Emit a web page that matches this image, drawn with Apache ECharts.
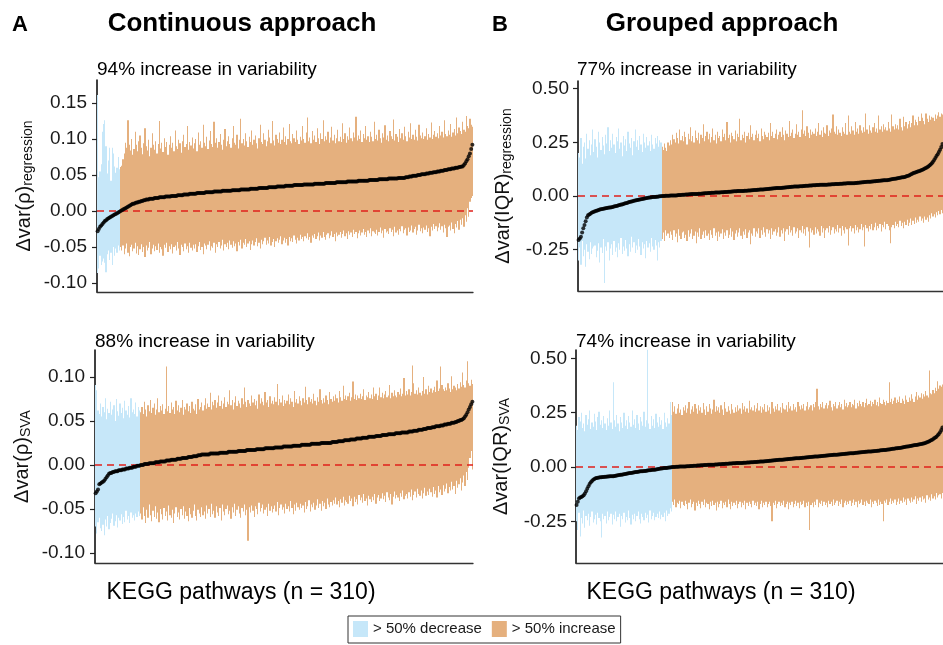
<!DOCTYPE html>
<html lang="en">
<head>
<meta charset="UTF-8">
<title>Variability per KEGG pathway</title>
<script src="https://cdn.jsdelivr.net/npm/echarts@6.0.0/dist/echarts.min.js"></script>
<style>
  body { margin: 0; padding: 0; background: #fff; }
  #chart { width: 943px; height: 645px; }
</style>
</head>
<body>
<div id="chart"></div>
<script>
// all values in thousandths; pathways are sorted by the point estimate
// A, top: continuous approach, regression
const tlDecrease = 19;
const tlPoint = [-28,-25,-22,-20,-18,-16,-14,-13,-11,-10,-9,-8,-7,-6,-5,-4,-3,-2,-1,0,
  1,2,3,4,5,6,7,8,9,10,10,11,12,12,13,13,14,14,15,15,
  16,16,16,17,17,17,17,18,18,18,18,19,19,19,19,19,20,20,20,20,20,21,21,21,21,21,22,22,22,22,22,23,23,23,23,23,24,24,24,24,24,24,25,25,25,
  25,25,25,25,26,26,26,26,26,26,26,27,27,27,27,27,27,27,28,28,28,28,28,28,28,28,29,29,29,29,29,29,29,30,30,30,30,30,30,30,30,31,31,31,31,31,31,31,32,32,32,32,32,32,32,32,33,33,33,33,33,33,33,34,34,34,34,34,34,34,35,35,35,35,35,35,35,36,36,36,36,36,
  36,36,36,37,37,37,37,37,37,37,37,37,38,38,38,38,38,38,38,38,38,39,39,39,39,39,39,39,39,39,40,40,40,40,40,40,40,40,40,41,41,41,41,41,41,41,41,41,42,42,42,42,42,42,42,42,42,43,43,43,43,43,43,43,43,44,44,44,44,44,44,44,44,45,45,45,45,45,45,45,45,46,46,46,46,46,46,
  47,47,47,48,48,48,49,49,49,49,50,50,50,51,51,51,51,52,52,52,53,53,53,
  54,54,54,55,55,55,56,56,56,57,57,57,58,58,58,59,59,59,60,60,60,61,61,62,62,
  64,66,69,72,76,80,86,92];
const tlHigh = [161,47,55,65,110,121,126,90,52,70,88,42,88,80,62,53,60,75,58,
  61,63,72,80,95,88,126,92,84,100,78,
  86,110,92,83,97,105,88,79,94,115, 90,84,99,76,88,108,92,85,97,80,
  93,125,87,95,82,101,89,96,78,92, 104,88,95,83,112,90,86,99,94,81,
  97,106,89,93,118,85,96,91,102,87, 94,100,83,109,92,97,88,120,95,90,
  103,86,98,111,93,89,124,95,101,88, 96,107,92,85,99,114,90,97,104,93,
  88,101,118,95,92,106,87,99,128,94, 100,91,108,97,89,103,96,112,92,99,
  105,94,87,101,120,96,93,108,99,90, 97,113,102,94,125,98,91,106,100,95,
  109,93,99,116,96,104,92,100,121,97, 94,107,101,96,112,99,93,103,98,118,
  100,95,109,130,97,102,94,111,99,105, 96,115,101,93,108,100,126,97,104,99,
  110,95,102,117,98,106,94,101,113,97, 103,96,122,100,108,95,104,99,116,101,
  97,109,102,131,98,105,100,112,96,107, 101,118,99,104,96,110,103,97,124,100,
  106,98,113,101,95,108,102,119,99,105, 97,111,104,100,127,98,107,103,96,114,
  101,108,99,117,104,97,110,102,122,100, 106,99,113,103,98,120,105,101,109,100,
  104,115,99,107,102,123,100,106,111,103, 108,101,118,105,110,102,126,107,104,112,
  106,121,103,109,114,105,130,108,116,111, 107,124,113,110,132,118,115,128,120,117];
const tlLow = [-86,-80,-62,-75,-70,-66,-72,-85,-60,-55,-68,-58,-75,-50,-62,-52,-58,-48,-55,
  -50,-55,-48,-60,-52,-45,-58,-63,-50,-47,-56,
  -52,-44,-59,-49,-61,-53,-46,-57,-50,-64, -48,-55,-51,-43,-60,-52,-47,-56,-49,-54,
  -45,-58,-50,-53,-62,-47,-51,-44,-57,-49, -53,-46,-59,-50,-48,-55,-43,-52,-61,-47,
  -50,-56,-45,-53,-49,-58,-44,-51,-55,-47, -52,-46,-57,-49,-43,-54,-50,-60,-45,-48,
  -53,-47,-42,-55,-49,-51,-44,-58,-46,-50, -43,-52,-48,-40,-55,-46,-50,-44,-53,-41,
  -47,-51,-42,-49,-45,-56,-43,-48,-40,-52, -44,-47,-39,-50,-45,-42,-54,-46,-41,-48,
  -43,-38,-49,-44,-52,-40,-46,-42,-37,-47, -41,-45,-36,-48,-43,-39,-50,-42,-38,-44,
  -40,-35,-46,-41,-37,-44,-39,-48,-36,-42, -38,-43,-34,-40,-45,-37,-41,-33,-39,-36,
  -42,-35,-38,-31,-40,-36,-44,-34,-37,-32, -39,-35,-30,-41,-34,-37,-29,-36,-40,-33,
  -31,-38,-34,-28,-36,-32,-42,-30,-35,-33, -29,-37,-32,-27,-35,-31,-39,-28,-33,-30,
  -36,-26,-32,-29,-38,-31,-27,-34,-30,-25, -33,-29,-36,-27,-31,-24,-35,-28,-30,-32,
  -26,-34,-29,-23,-31,-27,-37,-25,-30,-28, -32,-24,-29,-26,-35,-22,-30,-27,-33,-25,
  -28,-21,-31,-26,-24,-34,-23,-29,-27,-20, -30,-25,-22,-33,-27,-19,-28,-24,-31,-23,
  -26,-20,-29,-24,-35,-22,-27,-18,-25,-21, -28,-23,-17,-26,-21,-30,-19,-24,-36,-22,
  -20,-27,-16,-25,-31,-18,-23,-14,-26,-12, -19,-10,-22,-6,-15,4,-8,13,18,21];

// A, bottom: continuous approach, SVA
const blDecrease = 37;
const blPoint = [-32,-30,-28,-22,-21,-20,-19,-18,-16,-14,-12,-10,-9,-9,-8,-8,-7,-7,-7,-6,
  -6,-6,-5,-5,-5,-4,-4,-4,-3,-3,-3,-2,-2,-2,-1,-1,-1,
  0,0,0,1,1,1,1,2,2,2,2,2,3,3,3,3,4,4,4,4,4,5,5,5,5,6,6,6,6,6,7,7,7,7,8,8,8,8,8,9,9,9,9,10,10,10,10,11,11,11,
  12,12,12,12,12,12,12,13,13,13,13,13,13,13,13,14,14,14,14,14,14,14,15,15,15,15,15,15,15,15,
  16,16,16,16,16,16,16,17,17,17,17,17,17,17,17,18,18,18,18,18,18,18,19,19,19,19,19,19,19,19,
  20,20,20,20,20,20,20,21,21,21,21,21,21,21,21,22,22,22,22,22,22,22,23,23,23,23,23,23,23,23,
  24,24,24,24,24,24,24,24,25,25,25,25,25,25,25,25,25,
  26,26,26,26,26,27,27,27,27,27,28,28,28,28,28,29,29,29,29,29,30,30,30,30,30,31,31,31,31,31,
  32,32,32,32,32,32,33,33,33,33,33,34,34,34,34,34,35,35,35,35,35,35,36,36,36,36,36,37,37,37,37,37,37,
  38,38,38,38,39,39,39,39,40,40,40,40,41,41,41,42,42,42,42,43,43,43,44,44,44,44,45,45,45,46,46,46,47,47,47,48,48,
  48,49,49,50,50,51,51,52,53,55,57,60,63,66,69,72];
const blHigh = [91,85,62,58,70,55,66,60,76,52,64,59,72,57,63,68,50,75,61,56,
  70,59,65,53,73,62,57,67,54,76,60,63,58,71,55,66,62,
  60,66,58,72,63,55,68,61,74,59, 65,70,57,63,76,60,67,62,69,58,
  64,112,61,67,59,71,63,66,58,73, 62,68,60,65,74,57,66,63,70,61,
  67,59,72,64,62,69,58,75,63,66, 71,62,68,76,64,70,66,82,63,72,
  68,74,65,71,79,67,73,64,70,77, 66,72,69,85,68,74,63,71,78,67,
  73,70,65,76,69,88,72,66,74,70, 67,79,71,75,68,73,64,80,70,76,
  72,68,83,71,74,66,78,70,73,69, 77,72,92,68,75,71,79,67,74,70,
  73,80,69,76,72,66,84,71,75,70, 78,73,68,76,71,89,74,69,77,72,
  75,70,81,73,68,77,72,86,74,70, 76,71,79,74,69,83,75,72,78,73,
  80,76,71,84,77,73,90,75,79,74, 78,82,73,77,95,75,80,74,79,76,
  81,75,78,86,74,79,77,83,76,80, 75,88,78,81,74,79,88,77,82,76,
  80,84,77,79,91,76,82,78,85,79, 77,83,80,87,78,81,99,79,84,80,
  86,79,83,113,93,81,85,80,88,82, 79,84,100,81,86,80,90,83,87,82,
  85,89,83,96,84,87,112,91,86,84, 88,85,93,87,83,101,86,90,88,85,
  92,87,94,89,105,91,88,96,118,93, 90,97,92];
const blLow = [-70,-78,-65,-60,-72,-75,-68,-80,-62,-70,-58,-73,-66,-61,-55,-69,-64,-57,-71,-60,
  -63,-56,-67,-59,-65,-52,-62,-58,-66,-54,-60,-57,-63,-55,-59,-53,-58,
  -55,-62,-48,-58,-66,-51,-60,-45,-57,-64, -52,-59,-47,-61,-54,-65,-50,-56,-62,-49,
  -58,-53,-63,-46,-57,-60,-51,-66,-55,-48, -59,-54,-62,-50,-57,-47,-61,-53,-58,-64,
  -49,-56,-60,-52,-45,-58,-63,-51,-55,-59, -48,-57,-53,-61,-46,-55,-50,-59,-44,-56,
  -52,-60,-47,-54,-58,-49,-63,-45,-53,-57, -50,-46,-56,-52,-61,-48,-54,-44,-58,-51,
  -47,-55,-60,-49,-53,-45,-57,-51,-86,-48, -54,-46,-52,-59,-47,-50,-56,-43,-53,-49,
  -45,-55,-51,-48,-58,-44,-52,-47,-54,-50, -46,-53,-42,-57,-49,-45,-51,-48,-55,-44,
  -50,-47,-53,-41,-49,-56,-45,-52,-43,-48, -51,-44,-49,-46,-54,-42,-50,-47,-40,-53,
  -45,-48,-43,-51,-46,-39,-49,-44,-52,-41, -47,-43,-50,-38,-45,-48,-42,-46,-40,-44,
  -37,-45,-41,-48,-39,-43,-36,-46,-40,-42, -44,-35,-41,-38,-47,-36,-42,-39,-45,-34,
  -40,-37,-43,-33,-41,-38,-46,-35,-39,-42, -36,-40,-33,-44,-37,-34,-41,-38,-32,-39,
  -35,-42,-31,-37,-40,-33,-45,-36,-30,-38, -34,-37,-41,-32,-36,-29,-39,-35,-33,-38,
  -31,-36,-28,-40,-34,-30,-37,-27,-33,-35, -29,-38,-32,-26,-35,-30,-34,-27,-31,-36,
  -25,-33,-29,-37,-24,-31,-28,-34,-23,-30, -27,-21,-32,-25,-29,-19,-28,-24,-33,-18,
  -26,-22,-15,-29,-20,-12,-24,-8,-17,-3, 8,16,-5];

// B, top: grouped approach, regression
const trDecrease = 71;
const trPoint = [-205,-198,-190,-170,-150,-135,-118,-100,-90,-86,-82,-78,-75,-73,-71,-69,-67,-65,-63,-62,
  -60,-59,-58,-57,-56,-55,-54,-53,-52,-51,-49,-48,-46,-45,-43,-42,-40,-39,-37,-35,
  -34,-32,-30,-28,-27,-25,-24,-22,-21,-20,-19,-17,-16,-15,-14,-13,-12,-10,-9,-8,
  -7,-7,-6,-5,-5,-4,-3,-3,-2,-1,-1,
  0,0,0,1,1,1,1,2,2,2,3,3,3,4,
  5,5,5,6,6,6,7,7,7,8,8,9,9,9,10,10,10,11,11,11,12,12,13,13,13,14,14,14,15,15,15,16,16,17,17,17,18,18,18,19,19,19,20,20,20,21,21,22,22,22,23,23,23,24,24,24,25,25,25,26,26,26,27,27,28,28,28,
  29,29,30,30,31,31,32,32,33,33,34,34,35,35,36,36,37,37,37,38,38,39,39,40,40,41,41,42,42,43,43,44,44,44,45,45,46,46,46,47,47,
  48,48,48,49,49,49,50,50,50,51,51,51,52,52,52,52,53,53,53,54,54,54,55,55,55,56,56,56,56,57,57,57,58,58,58,59,59,59,59,60,60,60,
  61,61,62,62,63,63,64,64,65,65,66,66,67,67,68,68,69,69,70,70,71,71,72,72,73,73,74,74,
  75,76,77,78,79,80,81,82,83,84,85,86,87,88,89,91,93,95,97,100,103,106,
  108,110,112,114,116,118,120,122,125,128,131,134,138,142,147,153,160,168,177,
  186,195,205,216,228,242];
const trHigh = [200,180,270,150,230,250,175,290,220,260, 190,240,310,205,265,230,180,300,250,215,
  275,235,195,285,245,320,210,260,225,290, 240,200,275,255,315,220,250,185,280,235,
  265,210,300,245,225,270,190,255,310,230, 260,215,280,240,205,290,250,225,275,235,
  255,210,285,240,220,270,245,280,230,260,250,
  230,215,245,225,210,250,235,260,240,285, 265,250,295,270,245,310,260,280,255,300,
  275,240,290,265,320,255,280,250,305,270, 260,295,245,285,270,335,255,280,300,265,
  290,250,275,315,260,285,245,300,270,280, 255,310,275,290,260,345,270,285,250,295,
  280,265,305,255,290,275,360,260,285,270, 300,250,280,295,265,330,275,290,260,285,
  305,270,290,255,315,280,265,300,285,275, 295,260,340,280,300,270,290,310,265,285,
  300,275,320,285,260,305,290,275,350,280, 295,310,270,290,335,285,300,275,310,400,
  290,305,280,325,295,270,310,285,300,290, 315,280,300,340,285,305,275,320,295,290,
  330,280,305,295,315,380,300,290,325,285, 310,295,280,320,300,290,340,285,375,300,
  290,325,305,285,345,300,315,290,330,305, 295,320,300,385,310,290,330,305,295,320,
  340,300,315,295,375,310,325,300,335,310, 320,305,345,315,300,380,325,310,335,315,
  330,310,360,320,305,370,325,345,315,335, 350,320,340,375,330,355,345,330,370,350,
  385,365,350,335,385,360,345,375,355,370, 365,350,380,360,375,390,370,385,380];
const trLow = [-300,-240,-320,-210,-280,-250,-330,-225,-260,-295, -215,-270,-245,-235,-230,-285,-255,-220,-310,-240,
  -265,-200,-405,-235,-255,-215,-300,-245,-225,-275, -210,-260,-240,-285,-220,-250,-195,-270,-235,-255,
  -205,-245,-280,-225,-260,-190,-240,-215,-265,-230, -250,-200,-235,-275,-215,-245,-225,-290,-210,-240,
  -220,-260,-195,-235,-250,-205,-230,-300,-215,-240,-210,
  -200,-170,-210,-160,-185,-175,-195,-165,-180,-205, -160,-190,-175,-215,-155,-185,-200,-170,-165,-195,
  -180,-210,-160,-190,-175,-155,-200,-185,-165,-220, -170,-190,-150,-200,-180,-165,-195,-160,-185,-175,
  -205,-160,-180,-195,-150,-185,-170,-210,-165,-190, -175,-155,-200,-170,-185,-160,-195,-180,-150,-190,
  -165,-205,-175,-160,-190,-170,-150,-185,-200,-165, -180,-155,-195,-170,-160,-225,-175,-185,-150,-190,
  -165,-175,-150,-195,-160,-180,-145,-170,-190,-155, -175,-160,-200,-150,-180,-165,-155,-185,-170,-145,
  -190,-160,-175,-150,-210,-165,-155,-180,-140,-170, -160,-185,-145,-175,-165,-150,-195,-160,-170,-140,
  -175,-155,-185,-145,-165,-240,-150,-170,-160,-180, -145,-175,-155,-165,-185,-140,-170,-150,-195,-160,
  -150,-170,-140,-180,-160,-145,-175,-155,-165,-135, -170,-150,-185,-140,-160,-175,-145,-155,-230,-150,
  -140,-165,-150,-175,-135,-160,-145,-170,-155,-130, -160,-145,-235,-135,-150,-165,-140,-155,-130,-160,
  -145,-125,-160,-140,-150,-130,-165,-135,-145,-120, -155,-130,-140,-160,-220,-145,-135,-150,-120,-140,
  -130,-145,-115,-140,-125,-150,-120,-135,-110,-140, -125,-105,-135,-115,-130,-100,-125,-110,-120,-95,
  -115,-105,-125,-95,-110,-100,-120,-90,-105,-80, -95,-85,-100,-75,-90,-70,-85,-65,-80];

// B, bottom: grouped approach, SVA
const brDecrease = 81;
const brPoint = [-175,-160,-145,-140,-138,-135,-130,-122,-112,-100,-88,-78,-70,-64,-59,-55,-52,-50,-49,-48,
  -47,-47,-46,-46,-45,-45,-44,-44,-43,-43,-42,-42,-41,-40,-39,-38,-37,-36,-35,-34,
  -33,-32,-31,-30,-29,-28,-27,-26,-25,-24,-23,-23,-22,-21,-20,-20,-19,-18,-18,-17,
  -16,-15,-15,-14,-13,-12,-12,-11,-10,-9,-8,-7,-7,-6,-5,-4,-4,-3,-2,-2,-1,
  0,0,0,1,1,1,2,2,2,3,3,3,4,4,4,5,5,5,6,6,6,7,7,7,8,8,8,9,9,9,10,10,10,11,11,11,
  12,12,12,13,13,13,14,14,14,15,15,15,16,16,16,17,17,17,18,18,18,19,19,19,20,20,20,21,21,21,22,22,22,23,23,23,
  24,24,25,25,26,26,27,27,28,28,29,29,30,30,31,31,32,32,33,33,34,34,35,35,36,36,37,37,38,38,39,39,40,40,41,41,42,42,43,43,44,44,
  45,45,46,46,47,47,48,48,49,49,50,50,51,51,52,52,53,53,54,54,55,55,56,56,57,57,58,58,59,59,60,60,61,61,62,62,63,63,64,64,65,
  66,66,67,67,68,68,69,69,70,70,71,71,72,72,73,73,74,74,75,75,76,77,77,78,79,79,80,81,81,82,83,84,84,85,86,87,88,88,89,90,91,92,
  93,94,95,96,97,98,99,100,101,102,103,104,105,106,107,108,110,112,114,
  116,119,122,125,128,132,136,140,146,152,160,170,182];
const brHigh = [190,170,230,210,250,180,200,165,240,195, 220,260,175,205,185,245,210,170,230,255,
  195,215,180,235,200,170,225,190,260,205, 175,390,215,185,240,200,165,230,205,180,
  250,190,215,175,235,205,185,260,195,220, 180,240,200,170,230,210,190,255,185,215,
  540,200,175,235,190,220,180,245,205,185, 230,195,215,175,250,205,185,225,200,300,240,
  300,255,280,245,270,290,250,265,240,275, 260,285,250,270,300,245,265,280,255,290,
  270,245,285,260,275,250,295,265,240,280, 255,290,270,245,265,310,255,280,260,275,
  250,285,265,240,300,270,255,280,260,245, 290,265,250,275,255,285,260,270,245,295,
  265,280,255,270,250,305,265,275,260,285, 255,270,295,260,280,250,275,265,290,255,
  285,260,275,245,300,270,255,280,265,290, 260,275,250,295,270,265,285,255,300,270,
  280,260,290,265,275,255,300,280,265,285, 270,290,260,280,300,265,275,285,260,290,
  275,300,360,280,265,290,275,300,270,285, 295,270,285,305,275,260,290,280,300,270,
  285,300,275,290,265,310,280,295,275,285, 300,275,290,285,310,270,295,280,305,290,
  280,300,275,295,315,285,290,305,280,300, 290,310,285,300,280,320,295,290,310,300,
  285,305,295,390,300,315,290,305,320,295, 310,300,325,295,315,305,290,330,310,300,
  320,305,335,315,300,325,345,310,330,320, 340,315,335,325,350,330,320,445,340,335,
  355,340,365,350,395,360,375,370,380];
const brLow = [-250,-290,-210,-320,-235,-260,-200,-280,-225,-245, -215,-270,-230,-205,-255,-240,-220,-265,-210,-235,
  -250,-325,-215,-240,-225,-260,-205,-245,-230,-215, -265,-220,-240,-205,-250,-230,-215,-275,-225,-240,
  -210,-255,-230,-245,-200,-235,-265,-220,-240,-215, -250,-225,-205,-240,-260,-215,-230,-245,-210,-235,
  -220,-255,-200,-240,-225,-210,-245,-230,-215,-235, -205,-240,-220,-230,-210,-250,-200,-225,-215,-190,-205,
  -160,-175,-150,-185,-165,-170,-155,-190,-160,-175, -180,-155,-170,-195,-165,-150,-185,-170,-160,-200,
  -165,-180,-155,-170,-190,-160,-175,-150,-185,-165, -170,-195,-160,-180,-155,-175,-165,-200,-160,-185,
  -170,-155,-190,-165,-175,-160,-185,-150,-170,-195, -160,-180,-165,-175,-155,-190,-170,-160,-185,-165,
  -175,-155,-195,-165,-180,-160,-170,-185,-155,-175, -165,-180,-160,-195,-170,-155,-185,-165,-175,-160,
  -185,-170,-160,-180,-250,-165,-175,-155,-190,-170, -160,-180,-165,-175,-155,-185,-170,-160,-195,-165,
  -175,-160,-185,-170,-155,-180,-165,-190,-160,-175, -170,-155,-185,-165,-180,-160,-290,-175,-165,-185,
  -160,-175,-150,-185,-165,-170,-155,-180,-160,-175, -165,-185,-155,-170,-160,-180,-150,-175,-165,-155,
  -180,-160,-170,-150,-185,-165,-155,-175,-160,-170, -155,-180,-165,-150,-175,-160,-185,-155,-170,-165,
  -150,-175,-160,-180,-155,-165,-170,-150,-185,-160, -170,-155,-165,-180,-150,-175,-160,-170,-250,-155,
  -165,-150,-175,-160,-145,-170,-155,-165,-150,-175, -160,-145,-170,-155,-165,-140,-160,-150,-175,-145,
  -155,-165,-140,-160,-150,-135,-170,-145,-155,-140, -160,-135,-150,-145,-165,-130,-150,-140,-155,-125,
  -145,-135,-150,-120,-140,-130,-125,-145,-120];

const leftTicks = [-0.10, -0.05, 0.00, 0.05, 0.10, 0.15];
const lowerLeftTicks = [-0.10, -0.05, 0.00, 0.05, 0.10];
const rightTicks = [-0.25, 0.00, 0.25, 0.50];
const legendNames = ['> 50% decrease', '> 50% increase'];

const FONT = '"Liberation Sans", Arial, Helvetica, sans-serif';
const BLUE = '#c6e7f9';
const ORANGE = '#e5b07e';

const panels = [
  { point: tlPoint, high: tlHigh, low: tlLow, nDec: tlDecrease, ticks: leftTicks,
    grid: { left: 97, top: 80, width: 376, height: 212 }, min: -0.1125, max: 0.182,
    name: '{m|Δvar(ρ)}{s|regression}', nameGap: 62, labelGap: 10 },
  { point: blPoint, high: blHigh, low: blLow, nDec: blDecrease, ticks: lowerLeftTicks,
    grid: { left: 95, top: 350, width: 378, height: 213 }, min: -0.1114, max: 0.1307,
    name: '{m|Δvar(ρ)}{s|SVA}', nameGap: 62, labelGap: 10 },
  { point: trPoint, high: trHigh, low: trLow, nDec: trDecrease, ticks: rightTicks,
    grid: { left: 578, top: 81, width: 373, height: 210 }, min: -0.4425, max: 0.536,
    name: '{m|Δvar(IQR)}{s|regression}', nameGap: 64, labelGap: 9 },
  { point: brPoint, high: brHigh, low: brLow, nDec: brDecrease, ticks: rightTicks,
    grid: { left: 576, top: 350, width: 375, height: 213 }, min: -0.442, max: 0.539,
    name: '{m|Δvar(IQR)}{s|SVA}', nameGap: 64, labelGap: 9 }
];

// one rect per pathway, snapped to whole pixels so neighbours touch without seams
function errorBar(params, api) {
  const topLeft = api.coord([api.value(0) - 0.5, api.value(2)]);
  const bottomRight = api.coord([api.value(0) + 0.5, api.value(1)]);
  const x0 = Math.round(topLeft[0]);
  const x1 = Math.max(Math.round(bottomRight[0]), x0 + 1);
  return {
    type: 'rect',
    shape: { x: x0, y: topLeft[1], width: x1 - x0, height: bottomRight[1] - topLeft[1] },
    style: { fill: api.visual('color') }
  };
}

const grids = [], xAxes = [], yAxes = [], series = [];
panels.forEach((p, k) => {
  const n = p.point.length;
  grids.push(p.grid);
  xAxes.push({
    type: 'value', gridIndex: k, min: -0.5, max: n - 0.5,
    axisLine: { show: true, onZero: false, lineStyle: { color: '#333', width: 1.3 } },
    axisTick: { show: false }, axisLabel: { show: false }, splitLine: { show: false }
  });
  yAxes.push({
    type: 'value', gridIndex: k, min: p.min, max: p.max,
    axisLine: { show: true, onZero: false, lineStyle: { color: '#000', width: 1.5 } },
    axisTick: { show: true, length: 5, customValues: p.ticks, lineStyle: { color: '#222', width: 1.2 } },
    axisLabel: { customValues: p.ticks, formatter: v => v.toFixed(2), fontSize: 19, fontFamily: FONT, color: '#1a1a1a', margin: p.labelGap },
    splitLine: { show: false },
    name: p.name, nameLocation: 'middle', nameRotate: 90, nameGap: p.nameGap,
    nameTextStyle: {
      fontFamily: FONT, color: '#111',
      rich: {
        m: { fontSize: 20, fontFamily: FONT, color: '#111' },
        s: { fontSize: 14, fontFamily: FONT, color: '#111', padding: [8, 0, 0, 0] }
      }
    }
  });
  const dec = [], inc = [], pts = [];
  for (let i = 0; i < n; i++) {
    const row = [i, p.low[i] / 1000, p.high[i] / 1000];
    (i < p.nDec ? dec : inc).push(row);
    pts.push([i, p.point[i] / 1000]);
  }
  series.push({
    name: legendNames[0], type: 'custom', xAxisIndex: k, yAxisIndex: k,
    renderItem: errorBar, encode: { x: 0, y: [1, 2] }, itemStyle: { color: BLUE }, data: dec, silent: true
  });
  series.push({
    name: legendNames[1], type: 'custom', xAxisIndex: k, yAxisIndex: k,
    renderItem: errorBar, encode: { x: 0, y: [1, 2] }, itemStyle: { color: ORANGE }, data: inc, silent: true,
    markLine: {
      silent: true, symbol: 'none', label: { show: false },
      lineStyle: { color: '#e0201b', type: [7, 5], width: 1.5 },
      data: [{ yAxis: 0 }]
    }
  });
  series.push({
    type: 'scatter', xAxisIndex: k, yAxisIndex: k, z: 5, symbolSize: 4,
    itemStyle: { color: '#000' }, data: pts, silent: true
  });
});

function label(text, x, y, size, bold, align) {
  return {
    type: 'text', x: x, y: y,
    style: {
      text: text, fill: '#000', font: (bold ? 'bold ' : '') + size + 'px ' + FONT,
      textAlign: align, textVerticalAlign: 'middle', align: align, verticalAlign: 'middle'
    }
  };
}

const chart = echarts.init(document.getElementById('chart'));
chart.setOption({
  animation: false,
  textStyle: { fontFamily: FONT },
  grid: grids,
  xAxis: xAxes,
  yAxis: yAxes,
  series: series,
  legend: {
    data: legendNames, left: 348, top: 616, icon: 'rect', itemWidth: 15, itemHeight: 16, itemGap: 10,
    borderColor: '#333', borderWidth: 1, padding: [5, 5, 6, 5], selectedMode: false,
    textStyle: { fontSize: 15, fontFamily: FONT, color: '#1a1a1a' }
  },
  graphic: [
    label('A', 12, 25, 22, true, 'left'),
    label('Continuous approach', 242, 24, 26, true, 'center'),
    label('B', 492, 25, 22, true, 'left'),
    label('Grouped approach', 722, 24, 26, true, 'center'),
    label('94% increase in variability', 97, 70, 19, false, 'left'),
    label('88% increase in variability', 95, 342, 19, false, 'left'),
    label('77% increase in variability', 577, 70, 19, false, 'left'),
    label('74% increase in variability', 576, 342, 19, false, 'left'),
    label('KEGG pathways (n = 310)', 241, 593, 23, false, 'center'),
    label('KEGG pathways (n = 310)', 721, 593, 23, false, 'center')
  ]
});
window.addEventListener('resize', () => chart.resize());
</script>
</body>
</html>
